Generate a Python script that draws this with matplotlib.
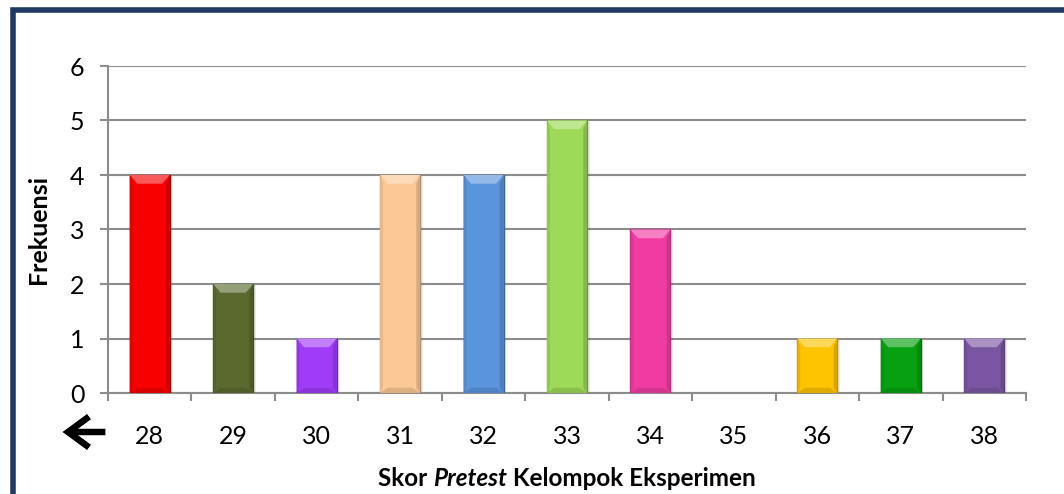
import matplotlib.pyplot as plt
import numpy as np
from matplotlib.patches import Polygon, Rectangle
from matplotlib.lines import Line2D
from matplotlib.offsetbox import TextArea, HPacker, AnchoredOffsetbox
import matplotlib.colors as mcolors

# data
skor = ['28', '29', '30', '31', '32', '33', '34', '35', '36', '37', '38']
frekuensi = [4, 2, 1, 4, 4, 5, 3, 0, 1, 1, 1]
warna = ['#F80000', '#5A6A2E', '#A03CF8', '#FBC896', '#5A94DC', '#9CDA58',
         '#F03CA2', '#FFFFFF', '#FFC400', '#06A010', '#7A56A2']
yticks = [0, 1, 2, 3, 4, 5, 6]

plt.rcParams['font.family'] = ['Lato', 'DejaVu Sans']

fig = plt.figure(figsize=(10.64, 4.94), dpi=100)
ax = fig.add_axes([108 / 1064, 1 - 393 / 494, 918 / 1064, 327 / 494])

x = np.arange(len(skor))
bw = 0.48


def shade(c, f):
    r, g, b = mcolors.to_rgb(c)
    if f < 1:
        return (r * f, g * f, b * f)
    f = f - 1
    return (r + (1 - r) * f, g + (1 - g) * f, b + (1 - b) * f)


# bars with a bevel look
for xi, h, c in zip(x, frekuensi, warna):
    if h == 0:
        continue
    x0, x1 = xi - bw / 2, xi + bw / 2
    # soft shadow
    ax.add_patch(Rectangle((x0 + 0.03, 0), bw, h - 0.02, facecolor='#000000',
                           alpha=0.08, lw=0, zorder=2))
    ax.bar(xi, h, width=bw, color=c, edgecolor=shade(c, 0.7), linewidth=1.0, zorder=3)
    dx, dy = 0.09, 0.16
    # top bevel
    ax.add_patch(Polygon([(x0, h), (x1, h), (x1 - dx, h - dy), (x0 + dx, h - dy)],
                         closed=True, facecolor=shade(c, 1.35), lw=0, zorder=4))
    # side darkening
    ax.add_patch(Polygon([(x1, h), (x1, 0), (x1 - dx * 0.5, dy * 0.6), (x1 - dx * 0.5, h - dy)],
                         closed=True, facecolor=shade(c, 0.85), lw=0, zorder=4))
    ax.add_patch(Polygon([(x0, h), (x0, 0), (x0 + dx * 0.4, dy * 0.6), (x0 + dx * 0.4, h - dy)],
                         closed=True, facecolor=shade(c, 0.92), lw=0, zorder=4))
    # bottom bevel
    ax.add_patch(Polygon([(x0, 0), (x1, 0), (x1 - dx, dy * 0.6), (x0 + dx, dy * 0.6)],
                         closed=True, facecolor=shade(c, 0.88), lw=0, zorder=4))

ax.set_xlim(-0.5, len(skor) - 0.5)
ax.set_ylim(0, 6)
ax.set_yticks(yticks)
ax.yaxis.grid(True, color='#8C8C8C', linewidth=1.5, zorder=0)
ax.set_axisbelow(True)

ax.set_xticks(x)
ax.set_xticklabels(skor)
ax.set_xticks(np.arange(len(skor) + 1) - 0.5, minor=True)

for s in ['top', 'right']:
    ax.spines[s].set_visible(False)
for s in ['left', 'bottom']:
    ax.spines[s].set_color('#8C8C8C')
    ax.spines[s].set_linewidth(1.5)

ax.tick_params(axis='y', length=6, width=1.5, color='#8C8C8C', pad=11, labelsize=18)
ax.tick_params(axis='x', which='major', length=0, pad=23, labelsize=18)
ax.tick_params(axis='x', which='minor', length=6, width=1.5, color='#8C8C8C')

ax.set_ylabel('Frekuensi', fontsize=18, fontweight='bold', labelpad=14)

# x label with italic word
parts = [TextArea('Skor ', textprops=dict(fontsize=17.5, fontweight='bold')),
         TextArea('Pretest', textprops=dict(fontsize=17.5, fontweight='bold', style='italic')),
         TextArea(' Kelompok Eksperimen', textprops=dict(fontsize=17.5, fontweight='bold'))]
box = HPacker(children=parts, align='baseline', pad=0, sep=0)
anch = AnchoredOffsetbox(loc='center', child=box, frameon=False,
                         bbox_to_anchor=(567 / 1064, 1 - 478 / 494),
                         bbox_transform=fig.transFigure, borderpad=0, pad=0)
fig.add_artist(anch)

# arrow at the lower left (open chevron head)
fig.add_artist(plt.annotate('', xy=(60 / 1064, 1 - 432 / 494), xytext=(108 / 1064, 1 - 432 / 494),
                            xycoords='figure fraction', textcoords='figure fraction',
                            arrowprops=dict(arrowstyle='->,head_length=0.75,head_width=0.55',
                                            color='black', lw=4.5, mutation_scale=20,
                                            joinstyle='miter', capstyle='butt')))

# frame border (left and top)
fig.add_artist(Line2D([12.5 / 1064, 12.5 / 1064, 1.0], [0, 1 - 10.5 / 494, 1 - 10.5 / 494],
                      transform=fig.transFigure, color='#1F3864', linewidth=4,
                      solid_joinstyle='miter'))

fig.savefig('out.png', dpi=100)
